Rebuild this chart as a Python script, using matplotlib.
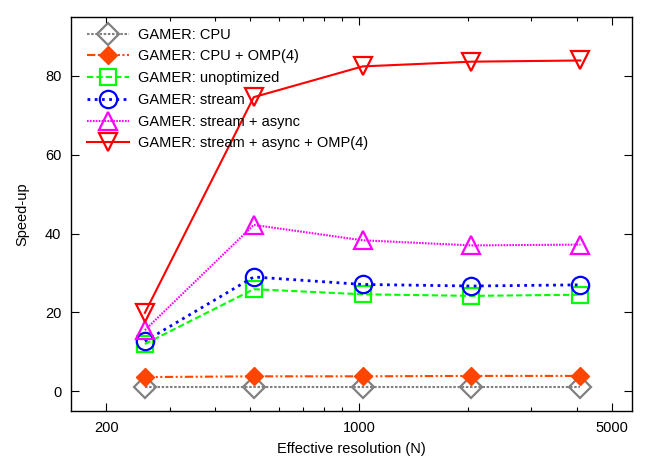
import numpy as np
import matplotlib
matplotlib.use("Agg")
import matplotlib.pyplot as plt
from matplotlib.ticker import FixedLocator, NullFormatter

plt.rcParams["font.family"] = ["Liberation Sans", "DejaVu Sans"]
plt.rcParams["font.size"] = 10.5

# effective resolution N
resolution = [256, 512, 1024, 2048, 4096]

cpu          = [1.0, 1.0, 1.0, 1.0, 1.0]
cpu_omp      = [3.6, 3.8, 3.8, 3.9, 3.9]
unoptimized  = [12.0, 25.9, 24.6, 24.2, 24.5]
stream       = [12.7, 29.0, 27.1, 26.7, 27.0]
stream_async = [15.5, 42.2, 38.3, 37.0, 37.2]
stream_all   = [19.9, 74.6, 82.4, 83.6, 83.9]

labels = [
    "GAMER: CPU",
    "GAMER: CPU + OMP(4)",
    "GAMER: unoptimized",
    "GAMER: stream",
    "GAMER: stream + async",
    "GAMER: stream + async + OMP(4)",
]

fig = plt.figure(figsize=(6.54, 4.58), dpi=100)
ax = fig.add_axes([0.1086, 0.1026, 0.8582, 0.8609])

lw = 1.5
ax.plot(resolution, cpu, color="#808080", linestyle=(0, (1.2, 0.8)), lw=lw,
        marker="D", markersize=11, markerfacecolor="none", markeredgewidth=1.6,
        label=labels[0])
ax.plot(resolution, cpu_omp, color="#ff4500", linestyle=(0, (4, 1.2, 1, 1.2, 1, 1.2)), lw=lw,
        marker="D", markersize=9, markerfacecolor="#ff4500", markeredgewidth=1.0,
        label=labels[1])
ax.plot(resolution, unoptimized, color="#00ff00", linestyle=(0, (3, 1.5)), lw=lw,
        marker="s", markersize=12, markerfacecolor="none", markeredgewidth=1.6,
        label=labels[2])
ax.plot(resolution, stream, color="#0000ff", linestyle=(0, (1, 1.6)), lw=2.0,
        marker="o", markersize=12.5, markerfacecolor="none", markeredgewidth=1.6,
        label=labels[3])
ax.plot(resolution, stream_async, color="#ff00ff", linestyle=(0, (0.8, 0.6)), lw=lw,
        marker="^", markersize=13, markerfacecolor="none", markeredgewidth=1.6,
        label=labels[4])
ax.plot(resolution, stream_all, color="#ff0000", linestyle="-", lw=lw,
        marker="v", markersize=13, markerfacecolor="none", markeredgewidth=1.6,
        label=labels[5])

ax.set_xscale("log")
ax.set_xlim(160, 5700)
ax.set_ylim(-5, 95)
ax.xaxis.set_major_locator(FixedLocator([200, 1000, 5000]))
ax.xaxis.set_minor_locator(FixedLocator([300, 400, 500, 600, 700, 800, 900,
                                         2000, 3000, 4000]))
ax.xaxis.set_minor_formatter(NullFormatter())
ax.set_xticklabels(["200", "1000", "5000"])
ax.set_yticks([0, 20, 40, 60, 80])

ax.tick_params(which="both", direction="in", top=True, right=True, width=0.8)
ax.tick_params(which="major", length=5.5, pad=7)
ax.tick_params(which="minor", length=3)
for s in ax.spines.values():
    s.set_linewidth(1.0)

ax.set_xlabel("Effective resolution (N)", labelpad=5)
ax.set_ylabel("Speed-up", labelpad=11)

ax.legend(loc="upper left", bbox_to_anchor=(16.3 / 561, 1 - 11.0 / 394),
          frameon=False, handlelength=2.88, handletextpad=0.62,
          labelspacing=0.53, borderaxespad=0, borderpad=0)

fig.savefig("out.png", dpi=100)
